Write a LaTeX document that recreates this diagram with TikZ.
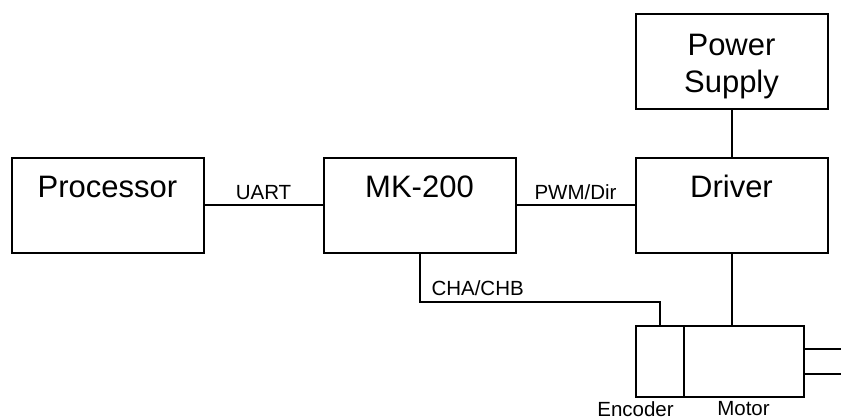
\documentclass[tikz,border=0pt]{standalone}
\usepackage{fontspec}
\setmainfont{Liberation Sans}
\usepackage{tikz}
\usetikzlibrary{positioning, calc}
\tikzset{
    block/.style={rectangle, draw, line width=2pt, outer sep=0pt, minimum width=192pt, minimum height=95pt, font=\fontsize{31}{37}\selectfont, text height=22pt, text depth=37pt},
    part/.style={rectangle, draw, line width=2pt, outer sep=0pt, minimum height=71pt, inner sep=0pt},
    tag/.style={font=\fontsize{20.5}{24}\selectfont, inner sep=0pt},
    wire/.style={line width=2pt}
}
\begin{document}
\begin{tikzpicture}[x=1pt, y=1pt, node distance=49pt and 120pt]
			\useasboundingbox (0,0) rectangle (841,418);
			% Middle Row
			\node (proc) [block] at (107.5,212.5) {Processor};
			
			\node (mk) [block, right=of proc] {MK-200};
			
			\node (drv) [block, right=of mk] {Driver};
			
			% Top
			\node (psu) [block, above=of drv, align=center, text height=68pt, text depth=6pt] {Power\\Supply};
			
			% Motor with encoder
			\node (enc) [part, below=73pt of drv.south west, anchor=north west, minimum width=48pt] {};
			
			\node (motor) [part, right=0pt of enc, minimum width=120pt] {};
			
			\node (enc_lbl) [tag, below=4.5pt of enc.south west] {Encoder};
			\node (mot_lbl) [tag, below=4.5pt of motor] {Motor};
			
			% Connections
			\draw [wire] (proc) -- node[tag, above=5pt]{UART} (mk);
			\draw [wire] (mk) -- node[tag, above=4.5pt]{PWM/Dir} (drv);
			\draw [wire] (psu) -- (drv);
			\draw [wire] (drv) -- (drv |- motor.north);
			\draw [wire] (mk.south) -- ++(0,-49) node[tag, anchor=south west, xshift=11pt, yshift=5pt]{CHA/CHB} -| (enc.north);
			
			% Shaft
			\draw [wire] ([yshift=12pt]motor.east) -- ++(40,0);
			\draw [wire] ([yshift=-12pt]motor.east) -- ++(40,0);
		\end{tikzpicture}
\end{document}
